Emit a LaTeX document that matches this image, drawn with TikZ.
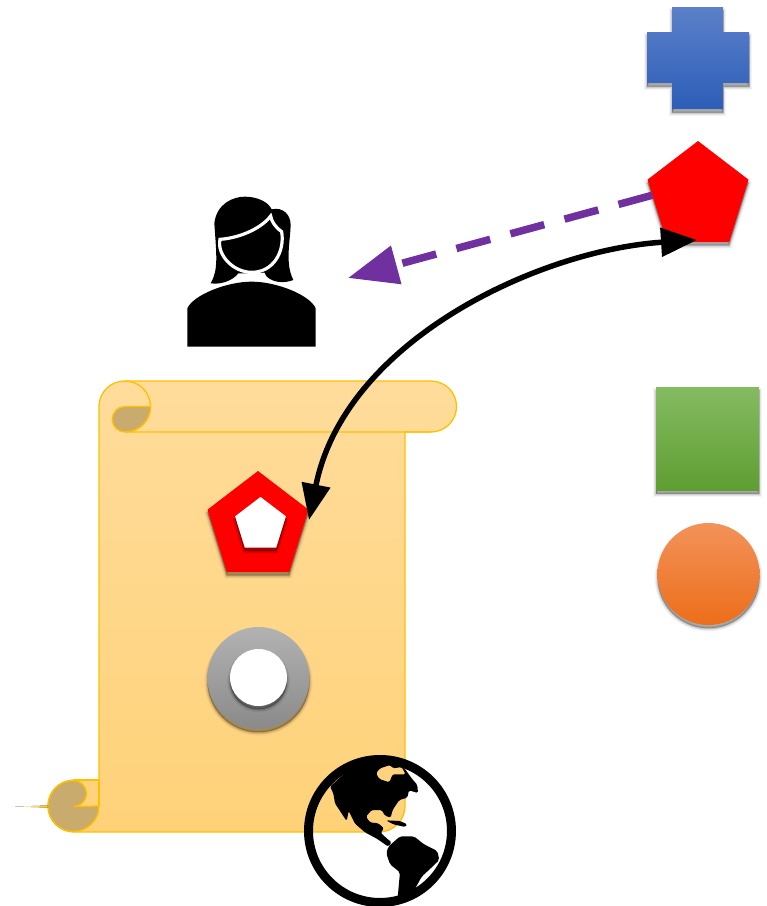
\documentclass[tikz,border=0pt]{standalone}
\usetikzlibrary{arrows.meta,shapes.geometric,shadows}
\definecolor{scrollLine}{HTML}{FFC000}
\definecolor{scrollTop}{HTML}{FFDC9B}
\definecolor{scrollBot}{HTML}{FFD279}
\definecolor{curlDark}{HTML}{C9AB6E}
\definecolor{arrowPurple}{HTML}{7030A0}
\tikzset{
  softshadow/.style={
    general shadow={draw=black,fill=black,line width=6pt,opacity=.04,shadow yshift=-3.5pt},
    general shadow={draw=black,fill=black,line width=4pt,opacity=.07,shadow yshift=-3.5pt},
    general shadow={draw=black,fill=black,line width=2pt,opacity=.1,shadow yshift=-3.5pt},
    general shadow={draw=black,fill=black,line width=.2pt,opacity=.14,shadow yshift=-3pt}},
  penta/.style={regular polygon,regular polygon sides=5,inner sep=0pt,outer sep=0pt,yscale=1.052,transform shape},
  scrollpart/.style={draw=scrollLine,line width=1.3pt},
  darkpart/.style={scrollpart,fill=curlDark},
  curvearrow/.style={line width=5.5pt,{Triangle[length=36pt,width=28pt]}-{Triangle[length=36pt,width=28pt]}}
}
\begin{document}
\begin{tikzpicture}[x=1pt,y=-1pt]
    \useasboundingbox (0,0) rectangle (767,906);

    \path[scrollpart,top color=scrollTop,bottom color=scrollBot] (125,381) -- (431,381) arc (-90:90:25.5) -- (405,432) -- (405,806) arc (0:90:26) -- (74,832) arc (90:270:26) -- (99,780) -- (99,406.5) arc (180:270:25.5) -- cycle;
    \draw[scrollpart] (125,381) arc (-90:90:25.5) -- (431,432);
    \draw[darkpart] (151,406.5) -- (125,406.5) arc (270:90:12.75) arc (90:0:25.5) -- cycle;
    \draw[darkpart] (99,806) arc (0:180:25.5) arc (180:270:25.5) arc (-90:90:13) -- cycle;
    \draw[scrollpart] (74,780) -- (99,780) -- (99,806);
    \fill[left color=white,right color=scrollLine] (15,806.5) -- (48,805.5) -- (48,807.5) -- cycle;

    \node[penta,minimum size=106.2pt,fill=red,softshadow] (pentaLow) at (258,526.9) {};
    \node[penta,minimum size=53.4pt,fill=white,softshadow] (pentaHole) at (260.5,525) {};

    \node[circle,minimum size=102pt,inner sep=0pt,top color=black!30,bottom color=black!46,softshadow] (ringGrey) at (258.5,678) {};
    \node[circle,minimum size=57pt,inner sep=0pt,fill=white,softshadow] (ringHole) at (258.5,677.5) {};

    % globe
    \begin{scope}[shift={(290,745)},x=.3333pt,y=-.3333pt]
        \fill[black,even odd rule,rounded corners=1.5pt] (120,125) -- (170,80) -- (230,55) -- (300,50) -- (345,72) -- (365,100) -- (382,120) -- (384,144) -- (357,136) -- (352,158) -- (328,165) -- (308,195) -- (302,218) -- (285,212) -- (275,195) -- (245,195) -- (228,215) -- (240,232) -- (265,235) -- (282,250) -- (272,263) -- (290,280) -- (305,292) -- (295,305) -- (262,282) -- (225,262) -- (195,236) -- (176,198) -- (170,228) -- (150,198) -- (135,175) -- (130,145) -- cycle
            (258,85) -- (270,70) -- (300,60) -- (310,70) -- (335,66) -- (347,88) -- (308,88) -- (298,112) -- (268,102) -- cycle;
        \fill[black,rounded corners=1.5pt] (288,226) -- (330,228) -- (352,238) -- (346,246) -- (310,238) -- cycle;
        \fill[black,rounded corners=2pt] (295,305) -- (330,274) -- (372,274) -- (402,298) -- (442,318) -- (448,345) -- (420,372) -- (395,395) -- (368,445) -- (350,470) -- (322,470) -- (330,382) -- (300,358) -- (289,325) -- cycle;
        \draw[line width=9pt] (270,258) circle (214.5);
    \end{scope}

    % woman
    \begin{scope}[shift={(170,180)},x=.3333pt,y=-.3333pt]
        \fill[black] (122,310) .. controls (145,270) and (140,230) .. (133,130) .. controls (140,70) and (190,50) .. (225,50) .. controls (260,50) and (295,65) .. (305,88) .. controls (340,80) and (362,105) .. (362,135) .. controls (360,190) and (345,250) .. (370,300) .. controls (340,312) and (300,308) .. (282,280) -- (205,280) .. controls (190,300) and (155,315) .. (122,310) -- cycle;
        \fill[white] (190,320) -- (207,283) -- (283,278) -- (305,320) -- cycle;
        \draw[white,line width=3.2pt,fill=black] (150,178) .. controls (200,175) and (270,150) .. (302,108) .. controls (305,125) and (315,140) .. (335,155) .. controls (345,215) and (310,277) .. (245,277) .. controls (190,277) and (140,225) .. (150,178) -- cycle;
        \fill[white] (170,322) .. controls (210,300) and (280,300) .. (325,322) -- cycle;
        \fill[black] (52,500) -- (52,385) .. controls (70,345) and (170,305) .. (245,305) .. controls (320,305) and (420,345) .. (437,385) -- (437,500) -- cycle;
    \end{scope}

    \path[top color={rgb,255:red,92;green,128;blue,201},bottom color={rgb,255:red,44;green,94;blue,184},softshadow] (672,7) -- (723,7) -- (723,32) -- (749,32) -- (749,83) -- (723,83) -- (723,109) -- (672,109) -- (672,83) -- (647,83) -- (647,32) -- (672,32) -- cycle;
    \node[penta,minimum size=106.2pt,fill=red,softshadow] (pentaTop) at (698,196.9) {};
    \node[rectangle,minimum size=103pt,inner sep=0pt,top color={rgb,255:red,133;green,187;blue,98},bottom color={rgb,255:red,94;green,158;blue,50},softshadow] (squareGreen) at (707.5,438.5) {};
    \node[circle,minimum size=102pt,inner sep=0pt,top color={rgb,255:red,243;green,146;blue,90},bottom color={rgb,255:red,236;green,110;blue,26},softshadow] (circleOrange) at (708.5,574) {};

    \coordinate (womanTip) at (348,278);
    \coordinate (curveLow) at (309,520);
    \coordinate (curveTop) at (697,240);

    \draw[arrowPurple,line width=7.5pt,dash pattern=on 35pt off 21pt,-{Triangle[length=50pt,width=38pt]}] (pentaTop.178) -- (womanTip);
    \draw[curvearrow] (curveTop) .. controls (540,250) and (345,340) .. (curveLow);
\end{tikzpicture}
\end{document}
